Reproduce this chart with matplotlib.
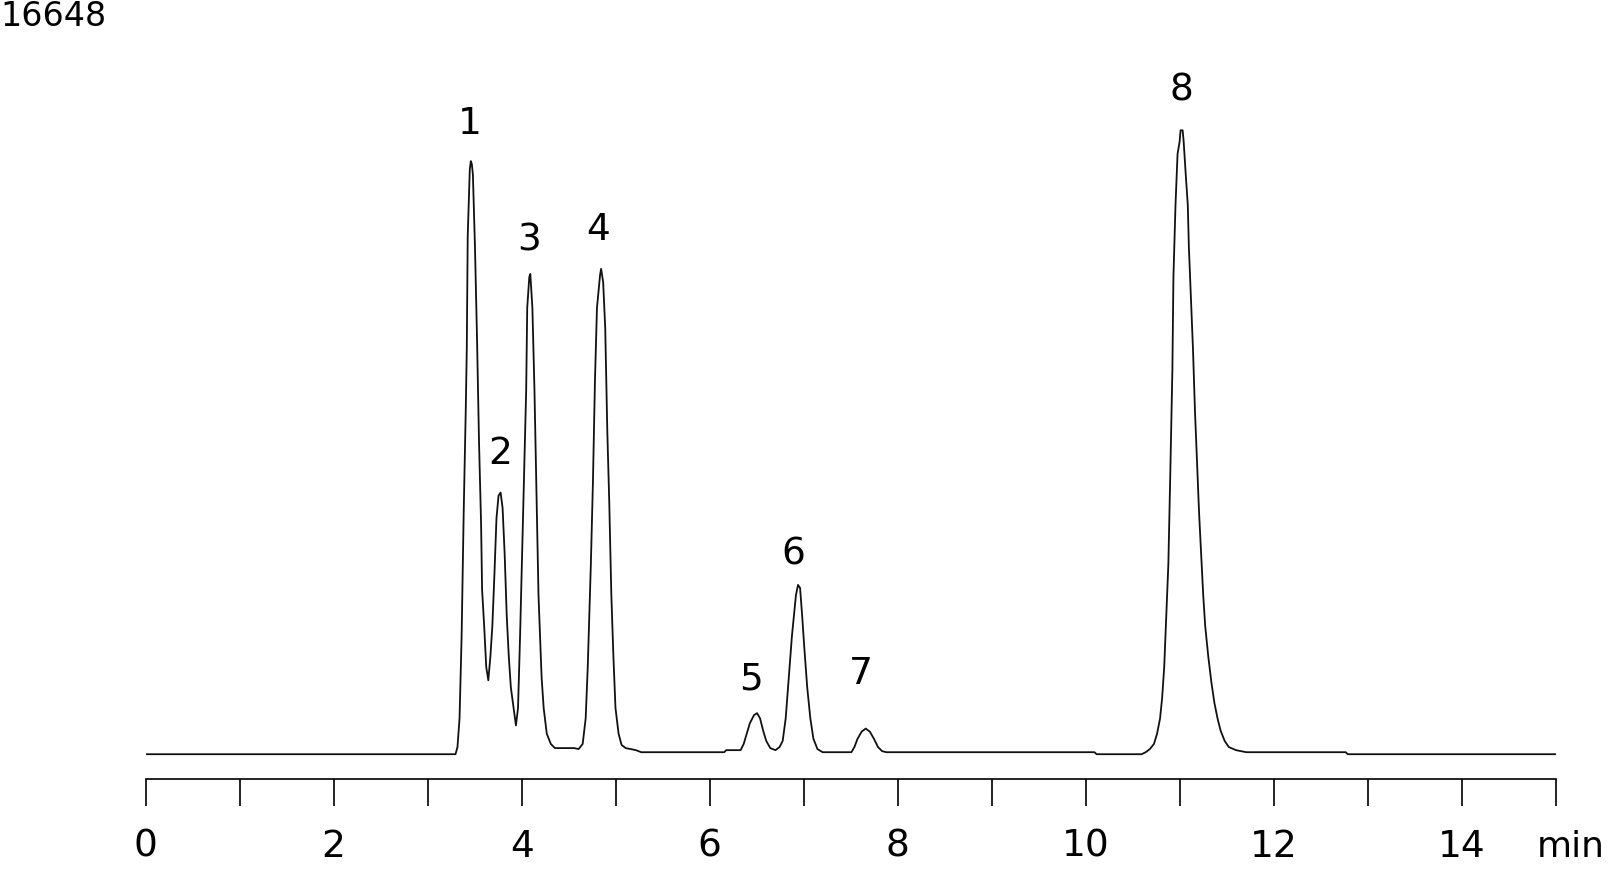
import numpy as np
import matplotlib
matplotlib.use('Agg')
import matplotlib.pyplot as plt

# chromatogram trace (time in min, signal in counts)
time = [0.0, 3.296, 3.317, 3.339, 3.361, 3.383, 3.405, 3.416, 3.426, 3.448,
        3.459, 3.470, 3.481, 3.503, 3.525, 3.546, 3.568, 3.579, 3.601, 3.623,
        3.645, 3.667, 3.688, 3.710, 3.732, 3.754, 3.776, 3.797, 3.819, 3.841,
        3.863, 3.885, 3.907, 3.939, 3.961, 3.983, 4.016, 4.048, 4.059, 4.081,
        4.092, 4.114, 4.136, 4.158, 4.179, 4.212, 4.234, 4.267, 4.310, 4.354,
        4.561, 4.605, 4.649, 4.681, 4.703, 4.736, 4.758, 4.780, 4.801, 4.834,
        4.845, 4.867, 4.889, 4.911, 4.932, 4.954, 4.976, 4.998, 5.031, 5.063,
        5.107, 5.216, 5.271, 6.155, 6.176, 6.329, 6.362, 6.395, 6.427, 6.471,
        6.504, 6.536, 6.569, 6.602, 6.645, 6.700, 6.744, 6.777, 6.809, 6.842,
        6.875, 6.897, 6.918, 6.940, 6.962, 6.984, 7.006, 7.038, 7.071, 7.104,
        7.147, 7.202, 7.508, 7.540, 7.573, 7.617, 7.660, 7.704, 7.748, 7.791,
        7.835, 7.879, 10.094, 10.116, 10.596, 10.639, 10.683, 10.727, 10.760, 10.792,
        10.814, 10.836, 10.858, 10.880, 10.901, 10.923, 10.934, 10.956, 10.978, 11.000,
        11.010, 11.032, 11.043, 11.065, 11.087, 11.098, 11.120, 11.142, 11.163, 11.185,
        11.207, 11.229, 11.251, 11.272, 11.305, 11.338, 11.370, 11.403, 11.436, 11.479,
        11.523, 11.600, 11.709, 12.767, 12.789, 15.0]
signal = [68, 68, 225, 855, 2655, 5355, 7605, 8955, 11430, 12893,
          13073, 13005, 12780, 11205, 9180, 6930, 5130, 3668, 2880, 1980,
          1688, 2205, 2880, 4005, 5243, 5738, 5805, 5468, 4455, 3105,
          2205, 1530, 1193, 698, 1080, 2655, 5355, 8055, 9855, 10530,
          10598, 9855, 8055, 5805, 3555, 1755, 1080, 518, 293, 202,
          202, 180, 293, 855, 1980, 4230, 6030, 8280, 9855, 10575,
          10710, 10418, 9405, 7155, 5580, 3555, 2205, 1080, 518, 270,
          202, 157, 112, 112, 157, 157, 293, 518, 743, 923,
          968, 855, 585, 360, 202, 157, 225, 360, 855, 1755,
          2655, 3105, 3555, 3780, 3713, 3105, 2430, 1530, 855, 405,
          180, 112, 112, 225, 405, 563, 630, 563, 405, 225,
          135, 112, 112, 68, 68, 112, 180, 293, 518, 855,
          1305, 1980, 3105, 4230, 6255, 8505, 10530, 12105, 13230, 13500,
          13748, 13748, 13500, 12780, 12105, 11205, 10080, 8955, 7605, 6480,
          5355, 4455, 3555, 2880, 2205, 1643, 1193, 855, 585, 360,
          225, 157, 112, 112, 68, 68]

peak_names = ['1', '2', '3', '4', '5', '6', '7', '8']
peak_times = [3.448, 3.776, 4.081, 4.812, 6.438, 6.886, 7.606, 11.021]
full_scale = '16648'

time = np.array(time)
signal = np.array(signal)

fig = plt.figure(figsize=(16.09, 8.69), dpi=100)
ax = fig.add_axes([145.7 / 1609, 0, 1409.9 / 1609, 1])
ax.plot(time, signal, color='#111111', lw=1.3)

ax.set_xlim(0, 15)
ax.set_ylim(-2449, 16605)

# peak numbers above each apex
label_dy = [27, 28, 24, 28, 24, 22, 39, 29]
for name, rt, dy in zip(peak_names, peak_times, label_dy):
    near = np.abs(time - rt) < 0.08
    top = signal[near].max()
    ax.annotate(name, (rt, top), xytext=(0, dy), textcoords='offset points',
                ha='center', va='center', fontsize=27)

# time ruler below the trace
for s in ['left', 'right', 'top']:
    ax.spines[s].set_visible(False)
ax.spines['bottom'].set_position(('data', -481))
ax.spines['bottom'].set_linewidth(1.2)
ax.set_yticks([])
ax.set_xticks(np.arange(0, 16, 2))
ax.set_xticks(np.arange(1, 16, 2), minor=True)
ax.tick_params(axis='x', which='both', direction='out', length=19.7, width=1.2,
               pad=16, labelsize=27)
ax.tick_params(axis='x', which='minor', labelbottom=False)

fig.text(1537 / 1609, 1 - 830 / 869, 'min', ha='left', va='top', fontsize=26)
fig.text(0, 1.0, full_scale, ha='left', va='top', fontsize=24)

plt.savefig('out.png', dpi=100)
